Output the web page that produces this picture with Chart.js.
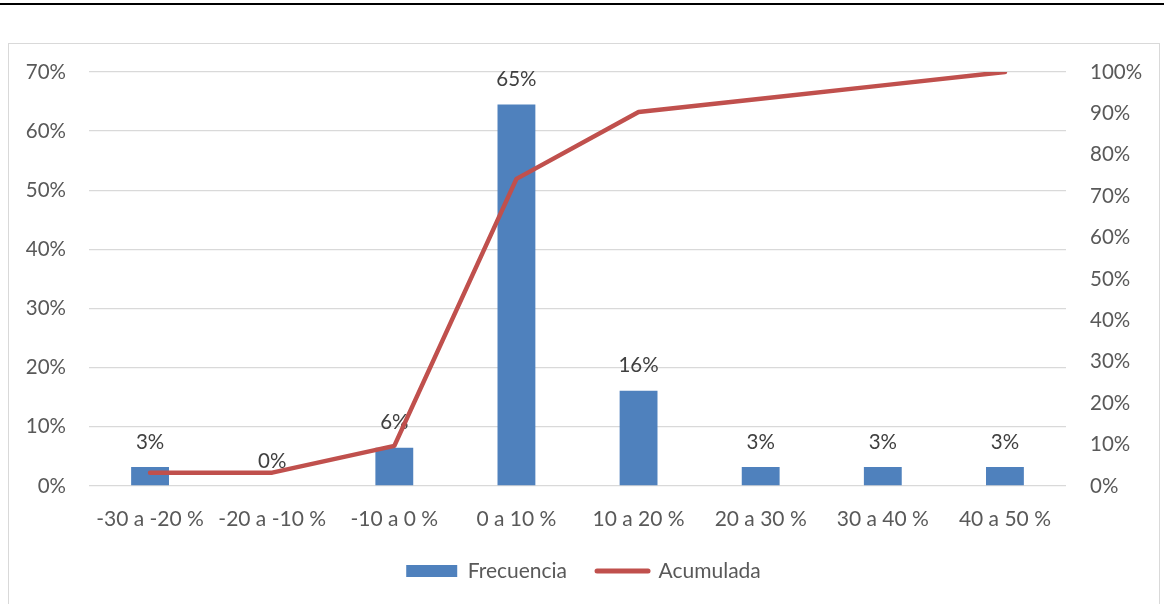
<!DOCTYPE html>
<html>
<head>
<meta charset="utf-8">
<script src="https://cdn.jsdelivr.net/npm/chart.js@4"></script>
<style>
  html, body { margin: 0; padding: 0; background: #fff; overflow: hidden; }
  #topRule { position: absolute; left: 0; top: 3px; width: 1164px; height: 2px; background: #000; }
  #frame { position: absolute; left: 8px; top: 43px; width: 1150px; height: 600px; border: 1px solid #d9d9d9; }
  #wrap { position: absolute; left: 0; top: 0; width: 1149px; height: 560px; }
</style>
</head>
<body>
<div id="topRule"></div>
<div id="frame">
  <div id="wrap"><canvas id="paretoChart"></canvas></div>
</div>
<script>
const categories = ["-30 a -20 %", "-20 a -10 %", "-10 a 0 %", "0 a 10 %", "10 a 20 %", "20 a 30 %", "30 a 40 %", "40 a 50 %"];
const frecuencia = [0.0323, 0, 0.0645, 0.645, 0.161, 0.0323, 0.0323, 0.0323];
const acumulada = [0.0323, 0.0323, 0.0968, 0.7419, 0.9032, 0.9355, 0.9677, 1.0];
const leftTicks = [0, 0.1, 0.2, 0.3, 0.4, 0.5, 0.6, 0.7];
const rightTicks = [0, 0.1, 0.2, 0.3, 0.4, 0.5, 0.6, 0.7, 0.8, 0.9, 1.0];

const blue = "#4f81bd";
const red = "#c0504d";
const tickColor = "#595959";
const fontFamily = "Lato, 'Liberation Sans', sans-serif";

function pct(v) {
  return Math.round(v * 100) + "%";
}

// fixed widths, and no extra room above/below for the end labels
function fixAxis(width) {
  return (scale) => {
    scale.width = width;
    scale.paddingTop = 0;
    scale.paddingBottom = 0;
  };
}

const barLabels = {
  id: "barLabels",
  afterDatasetDraw(chart, args) {
    if (args.index !== 0) return;
    const ctx = chart.ctx;
    ctx.save();
    ctx.font = "20.5px " + fontFamily;
    ctx.fillStyle = "#404040";
    ctx.textAlign = "center";
    ctx.textBaseline = "middle";
    args.meta.data.forEach((bar, i) => {
      ctx.fillText(pct(frecuencia[i]), bar.x, bar.y - 25);
    });
    ctx.restore();
  }
};

new Chart(document.getElementById("paretoChart"), {
  type: "bar",
  data: {
    labels: categories,
    datasets: [
      {
        label: "Frecuencia",
        data: frecuencia,
        backgroundColor: blue,
        borderWidth: 0,
        barPercentage: 0.31,
        categoryPercentage: 1,
        yAxisID: "y",
        order: 2
      },
      {
        type: "line",
        label: "Acumulada",
        data: acumulada,
        borderColor: red,
        backgroundColor: red,
        borderWidth: 4.5,
        borderCapStyle: "round",
        borderJoinStyle: "round",
        pointRadius: 0,
        tension: 0,
        yAxisID: "y1",
        order: 1
      }
    ]
  },
  options: {
    responsive: true,
    maintainAspectRatio: false,
    animation: false,
    layout: { padding: { top: 28, left: 0, right: 0, bottom: 12.5 } },
    plugins: {
      tooltip: { enabled: false },
      legend: {
        position: "bottom",
        labels: {
          color: tickColor,
          font: { family: fontFamily, size: 21 },
          usePointStyle: true,
          pointStyleWidth: 51,
          boxWidth: 51,
          boxHeight: 12,
          padding: 30,
          generateLabels(chart) {
            const items = Chart.defaults.plugins.legend.labels.generateLabels(chart);
            items.sort((a, b) => a.datasetIndex - b.datasetIndex);
            items.forEach((item) => {
              if (item.datasetIndex === 0) {
                item.pointStyle = "rect";
                item.fillStyle = blue;
                item.lineWidth = 0;
              } else {
                item.pointStyle = "line";
                item.strokeStyle = red;
                item.lineWidth = 5;
                item.lineCap = "round";
              }
            });
            return items;
          }
        }
      }
    },
    scales: {
      x: {
        grid: { display: false },
        border: { display: false },
        ticks: { color: tickColor, font: { family: fontFamily, size: 21 }, padding: 12.4, maxRotation: 0 },
        afterFit(scale) { scale.height = 44.5; }
      },
      y: {
        position: "left",
        min: 0,
        max: 0.7,
        afterBuildTicks(scale) { scale.ticks = leftTicks.map((v) => ({ value: v })); },
        grid: { color: "#d9d9d9", lineWidth: 1.3, drawTicks: false },
        border: { display: false },
        ticks: { color: tickColor, font: { family: fontFamily, size: 20.5 }, padding: 23, callback: (v) => pct(v) },
        afterFit: fixAxis(80)
      },
      y1: {
        position: "right",
        min: 0,
        max: 1,
        afterBuildTicks(scale) { scale.ticks = rightTicks.map((v) => ({ value: v })); },
        grid: { display: false, drawTicks: false },
        border: { display: false },
        ticks: { color: tickColor, font: { family: fontFamily, size: 20.5 }, padding: 24, callback: (v) => pct(v) },
        afterFit: fixAxis(92)
      }
    }
  },
  plugins: [barLabels]
});
</script>
</body>
</html>
